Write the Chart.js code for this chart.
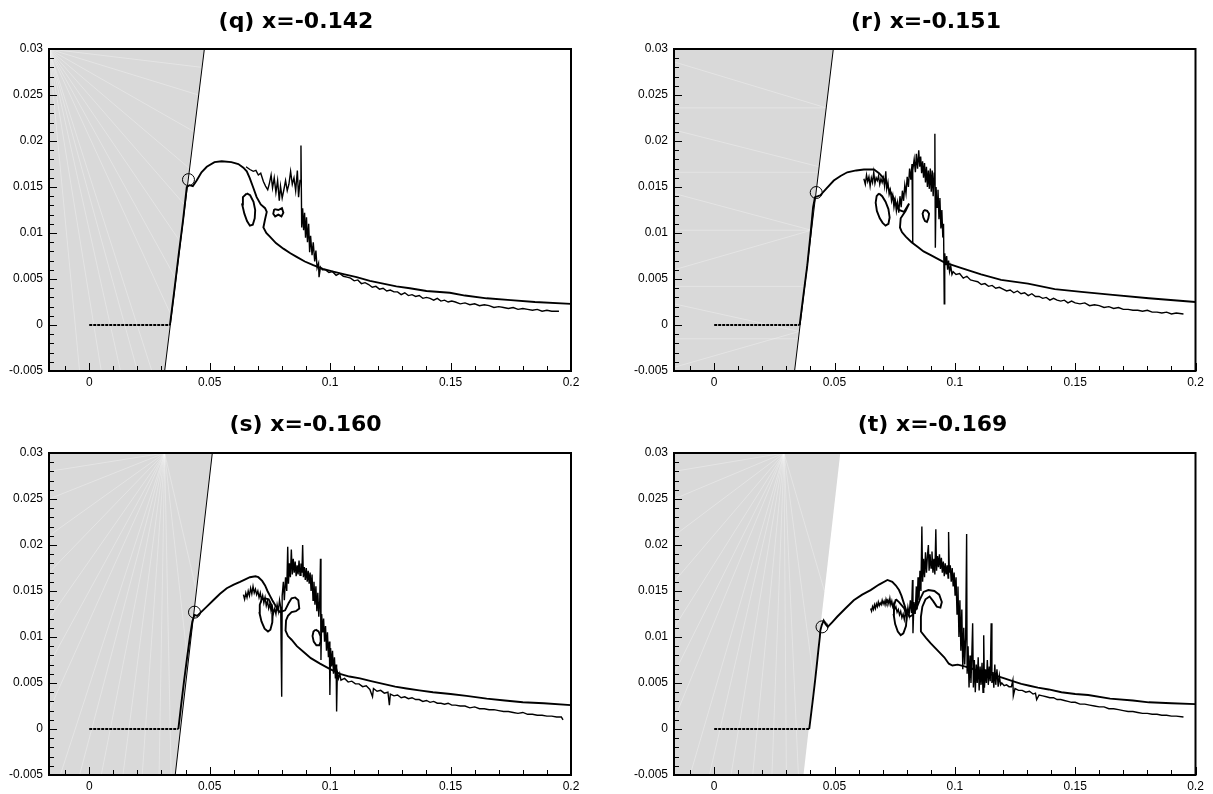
<!DOCTYPE html>
<html>
<head>
<meta charset="utf-8">
<script src="https://cdn.jsdelivr.net/npm/chart.js@4.4.1/dist/chart.umd.min.js"></script>
<style>
  body { margin: 0; background: #fff; width: 1213px; height: 794px; overflow: hidden; position: relative; }
  canvas { position: absolute; }
</style>
</head>
<body>
<canvas id="cq" width="592" height="397" style="left:0;top:0"></canvas>
<canvas id="cr" width="612" height="397" style="left:620px;top:0"></canvas>
<canvas id="cs" width="611" height="397" style="left:0;top:397px"></canvas>
<canvas id="ct" width="625" height="397" style="left:620px;top:397px"></canvas>
<script>
  'use strict';

  // axis ranges and tick labels (shared by all four panels)
  var xMin = -0.0167, xMax = 0.2;
  var yMin = -0.005, yMax = 0.03;
  var xTicks = [0, 0.05, 0.1, 0.15, 0.2];
  var xTickLabels = ['0', '0.05', '0.1', '0.15', '0.2'];
  var yTicks = [-0.005, 0, 0.005, 0.01, 0.015, 0.02, 0.025, 0.03];
  var yTickLabels = ['-0.005', '0', '0.005', '0.01', '0.015', '0.02', '0.025', '0.03'];

  var titles = ['(q) x=-0.142', '(r) x=-0.151', '(s) x=-0.160', '(t) x=-0.169'];

  /* ---------- (q) ---------- */
  var qWedge = [[0.0313, -0.005], [0.0478, 0.03]];
  var qFlat = [[0, 0], [0.0335, 0]];
  var qMain = [[0.0335,0],[0.0352,0.0035],[0.0372,0.0078],[0.0390,0.0115],[0.0405,0.0150],[0.0416,0.0152],[0.0430,0.0151],
    [0.0446,0.0157],[0.0466,0.0166],[0.0488,0.0172],[0.0520,0.0177],[0.0550,0.0178],[0.0590,0.0177],[0.0619,0.0175],
    [0.0640,0.0171],[0.0654,0.0167],[0.0666,0.0160],[0.0680,0.0150],[0.0695,0.0139],[0.0712,0.0131],[0.0730,0.0127],
    [0.0737,0.0123],[0.0730,0.0115],[0.0723,0.0106],[0.0735,0.0100],[0.0750,0.0096],[0.0775,0.0089],[0.0806,0.0083],
    [0.0835,0.0078],[0.0861,0.0074],[0.0895,0.0069],[0.0930,0.0065],[0.0970,0.0061],[0.1013,0.0058],[0.1060,0.0055],
    [0.1110,0.0052],[0.1165,0.0048],[0.1220,0.0045],[0.1275,0.0042],[0.1331,0.0040],[0.1400,0.0037],[0.1497,0.0035],
    [0.1560,0.0032],[0.1650,0.0029],[0.1750,0.0027],[0.1850,0.0025],[0.2000,0.0023]];
  var qNoise = [[0.0651,0.0172],[0.0667,0.0169],[0.0681,0.0167],[0.0692,0.0168],[0.0702,0.0163],[0.0712,0.0165],[0.0723,0.0156],
    [0.0732,0.0151],[0.0741,0.0147],[0.0748,0.0154],[0.0755,0.0163],[0.0761,0.0149],[0.0768,0.0160],[0.0775,0.0144],
    [0.0782,0.0157],[0.0789,0.0135],[0.0794,0.0151],[0.0801,0.0138],[0.0808,0.0147],[0.0815,0.0157],[0.0822,0.0146],
    [0.0829,0.0153],[0.0836,0.0167],[0.0843,0.0153],[0.0850,0.0160],[0.0857,0.0146],[0.0864,0.0168],[0.0869,0.0139],
    [0.0875,0.0157],[0.0879,0.0195],[0.0882,0.0106],[0.0886,0.0127],[0.0890,0.0103],[0.0894,0.0122],[0.0898,0.0095],
    [0.0902,0.0117],[0.0906,0.0090],[0.0911,0.0110],[0.0915,0.0079],[0.0919,0.0097],[0.0925,0.0076],[0.0930,0.0090],
    [0.0936,0.0069],[0.0941,0.0081],[0.0946,0.0062],[0.0952,0.0067],[0.0954,0.0052],[0.0960,0.0063],[0.0968,0.0060],
    [0.0980,0.0060],[0.0995,0.0057],[0.1010,0.0058],[0.1025,0.0054],[0.1040,0.0056],[0.1055,0.0053],[0.1070,0.0052],
    [0.1085,0.0051],[0.1100,0.0048],[0.1115,0.0049],[0.1130,0.0045],[0.1145,0.0046],[0.1160,0.0044],[0.1175,0.0041],
    [0.1190,0.0042],[0.1205,0.0039],[0.1220,0.0040],[0.1235,0.0037],[0.1250,0.0038],[0.1265,0.0036],[0.1280,0.0036],
    [0.1295,0.0033],[0.1310,0.0035],[0.1325,0.0032],[0.1340,0.0033],[0.1355,0.0031],[0.1370,0.0032],[0.1385,0.0029],
    [0.1400,0.0030],[0.1415,0.0029],[0.1430,0.0027],[0.1445,0.0029],[0.1460,0.0026],[0.1475,0.0027],[0.1490,0.0025],
    [0.1505,0.0026],[0.1520,0.0025],[0.1540,0.0023],[0.1560,0.0024],[0.1580,0.0022],[0.1600,0.0023],[0.1620,0.0021],
    [0.1640,0.0022],[0.1660,0.0021],[0.1680,0.0019],[0.1700,0.0020],[0.1720,0.0019],[0.1740,0.0018],[0.1760,0.0019],
    [0.1780,0.0017],[0.1800,0.0018],[0.1820,0.0017],[0.1840,0.0016],[0.1860,0.0017],[0.1880,0.0015],[0.1900,0.0016],
    [0.1920,0.0015],[0.1950,0.0015]];
  var qLoopA = [[0.0654,0.0143],[0.0668,0.0141],[0.0682,0.0134],[0.0689,0.0125],[0.0687,0.0116],[0.0679,0.0109],[0.0667,0.0108],
    [0.0655,0.0113],[0.0644,0.0121],[0.0635,0.0131],[0.0638,0.0139],[0.0654,0.0143]];
  var qLoopB = [[0.0768,0.0126],[0.0785,0.0125],[0.0800,0.0127],[0.0806,0.0122],[0.0798,0.0118],[0.0785,0.0120],[0.0772,0.0118],
    [0.0764,0.0121],[0.0768,0.0126]];
  var qMark = [[0.0412, 0.0158]];
  var qRayFrom = [-0.0167, 0.03];
  var qRayTo = [[0.0469,0.028],[0.0454,0.025],[0.0436,0.021],[0.0417,0.017],[0.0398,0.013],[0.0379,0.009],[0.0360,0.005],
    [0.0341,0.001],[0.026,-0.005],[0.020,-0.005],[0.013,-0.005],[0.005,-0.005],[-0.004,-0.005]];

  /* ---------- (r) ---------- */
  var rWedge = [[0.0334, -0.005], [0.0495, 0.03]];
  var rFlat = [[0, 0], [0.0355, 0]];
  var rMain = [[0.0355,0],[0.0372,0.0035],[0.0387,0.0065],[0.0400,0.0098],[0.0411,0.0128],[0.0419,0.0139],[0.0431,0.0140],
    [0.0441,0.0141],[0.0465,0.0148],[0.0497,0.0157],[0.0525,0.0162],[0.0553,0.0166],[0.0590,0.0168],[0.0622,0.0169],
    [0.0664,0.0169],[0.0685,0.0165],[0.0699,0.0161],[0.0713,0.0155],[0.0726,0.0148],[0.0740,0.0141],[0.0750,0.0136],
    [0.0760,0.0129],[0.0768,0.0125],[0.0789,0.0123],[0.0810,0.0132],[0.0795,0.0124],[0.0775,0.0116],[0.0772,0.0106],
    [0.0780,0.0101],[0.0796,0.0096],[0.0820,0.0090],[0.0845,0.0085],[0.0870,0.0080],[0.0900,0.0076],[0.0956,0.0068],
    [0.1025,0.0062],[0.1109,0.0055],[0.1192,0.0049],[0.1304,0.0045],[0.1415,0.0039],[0.1526,0.0036],[0.1645,0.0033],
    [0.1806,0.0029],[0.2000,0.0025]];
  var rNoise = [[0.0622,0.0159],[0.0628,0.0153],[0.0633,0.0163],[0.0638,0.0156],[0.0643,0.0161],[0.0648,0.0151],[0.0653,0.0160],
    [0.0658,0.0155],[0.0663,0.0166],[0.0668,0.0154],[0.0673,0.0160],[0.0678,0.0157],[0.0683,0.0162],[0.0688,0.0153],
    [0.0693,0.0159],[0.0698,0.0155],[0.0703,0.0160],[0.0708,0.0151],[0.0713,0.0167],[0.0717,0.0148],[0.0722,0.0155],
    [0.0727,0.0142],[0.0732,0.0147],[0.0737,0.0135],[0.0742,0.0141],[0.0747,0.0128],[0.0752,0.0136],[0.0757,0.0124],
    [0.0762,0.0133],[0.0767,0.0122],[0.0772,0.0140],[0.0777,0.0128],[0.0782,0.0146],[0.0787,0.0135],[0.0792,0.0152],
    [0.0797,0.0143],[0.0802,0.0161],[0.0807,0.0150],[0.0812,0.0170],[0.0817,0.0158],[0.0822,0.0175],[0.0824,0.0089],
    [0.0826,0.0168],[0.0831,0.0180],[0.0836,0.0166],[0.0840,0.0186],[0.0845,0.0170],[0.0850,0.0190],[0.0854,0.0172],
    [0.0858,0.0183],[0.0862,0.0165],[0.0866,0.0178],[0.0870,0.0160],[0.0874,0.0176],[0.0878,0.0155],[0.0882,0.0172],
    [0.0886,0.0150],[0.0890,0.0168],[0.0894,0.0148],[0.0898,0.0170],[0.0902,0.0145],[0.0906,0.0168],[0.0910,0.0140],
    [0.0914,0.0165],[0.0917,0.0208],[0.0919,0.0084],[0.0922,0.0150],[0.0926,0.0128],[0.0930,0.0147],[0.0934,0.0115],
    [0.0938,0.0138],[0.0942,0.0105],[0.0946,0.0125],[0.0950,0.0095],[0.0953,0.0110],[0.0956,0.0023],[0.0958,0.0078],
    [0.0962,0.0065],[0.0966,0.0075],[0.0970,0.0060],[0.0974,0.0070],[0.0978,0.0058],[0.0983,0.0064],[0.0988,0.0055],
    [0.0993,0.0058],[0.1005,0.0055],[0.1020,0.0056],[0.1035,0.0051],[0.1050,0.0053],[0.1065,0.0049],[0.1080,0.0048],
    [0.1095,0.0047],[0.1110,0.0044],[0.1125,0.0045],[0.1140,0.0042],[0.1155,0.0043],[0.1170,0.0040],[0.1185,0.0041],
    [0.1200,0.0039],[0.1215,0.0037],[0.1230,0.0038],[0.1245,0.0035],[0.1260,0.0037],[0.1275,0.0034],[0.1290,0.0035],
    [0.1305,0.0032],[0.1320,0.0034],[0.1335,0.0031],[0.1350,0.0031],[0.1365,0.0029],[0.1380,0.0030],[0.1395,0.0027],
    [0.1410,0.0029],[0.1425,0.0027],[0.1440,0.0026],[0.1455,0.0027],[0.1470,0.0024],[0.1485,0.0026],[0.1500,0.0024],
    [0.1520,0.0023],[0.1540,0.0024],[0.1560,0.0021],[0.1580,0.0022],[0.1600,0.0021],[0.1620,0.0019],[0.1640,0.0020],
    [0.1660,0.0018],[0.1680,0.0019],[0.1700,0.0017],[0.1720,0.0017],[0.1740,0.0016],[0.1760,0.0016],[0.1780,0.0015],
    [0.1800,0.0016],[0.1820,0.0014],[0.1840,0.0014],[0.1860,0.0013],[0.1880,0.0014],[0.1900,0.0012],[0.1920,0.0013],
    [0.1950,0.0012]];
  var rLoopA = [[0.0685,0.0143],[0.0698,0.0140],[0.0712,0.0134],[0.0724,0.0126],[0.0729,0.0117],[0.0724,0.0110],[0.0712,0.0108],
    [0.0700,0.0111],[0.0688,0.0116],[0.0676,0.0124],[0.0671,0.0133],[0.0675,0.0140],[0.0685,0.0143]];
  var rLoopB = [[0.0872,0.0125],[0.0885,0.0124],[0.0893,0.0121],[0.0890,0.0116],[0.0884,0.0112],[0.0876,0.0113],[0.0869,0.0117],
    [0.0866,0.0121],[0.0872,0.0125]];
  var rMark = [[0.0424, 0.0144]];
  var rRays = [
    [[-0.0167,0.0236],[0.0466,0.0236]], [[-0.0167,0.0166],[0.0433,0.0166]], [[-0.0167,0.0103],[0.0404,0.0103]],
    [[-0.0167,0.0042],[0.0376,0.0042]], [[-0.0167,-0.0015],[0.0350,-0.0015]], [[-0.0167,0.0286],[0.0466,0.0236]],
    [[-0.0167,0.0212],[0.0436,0.0172]], [[-0.0167,0.0143],[0.0404,0.0103]], [[-0.0167,0.0060],[0.0404,0.0103]],
    [[-0.0167,0.0023],[0.0354,-0.0007]], [[-0.0167,-0.0046],[0.0354,-0.0007]]];

  /* ---------- (s) ---------- */
  var sWedge = [[0.0357, -0.005], [0.0511, 0.03]];
  var sFlat = [[0, 0], [0.0370, 0]];
  var sMain = [[0.0370,0],[0.0382,0.0027],[0.0394,0.0053],[0.0406,0.0077],[0.0418,0.0100],[0.0428,0.0117],[0.0437,0.0124],
    [0.0448,0.0123],[0.0460,0.0126],[0.0488,0.0133],[0.0515,0.0140],[0.0543,0.0147],[0.0571,0.0153],[0.0600,0.0157],
    [0.0626,0.0160],[0.0650,0.0163],[0.0667,0.0165],[0.0690,0.0166],[0.0702,0.0165],[0.0718,0.0161],[0.0730,0.0156],
    [0.0740,0.0150],[0.0750,0.0145],[0.0760,0.0140],[0.0771,0.0135],[0.0782,0.0130],[0.0792,0.0127],[0.0813,0.0129],
    [0.0828,0.0137],[0.0840,0.0142],[0.0855,0.0143],[0.0868,0.0140],[0.0872,0.0131],[0.0858,0.0128],[0.0840,0.0127],
    [0.0825,0.0123],[0.0817,0.0118],[0.0815,0.0107],[0.0825,0.0101],[0.0840,0.0097],[0.0862,0.0090],[0.0889,0.0084],
    [0.0920,0.0077],[0.0958,0.0071],[0.1000,0.0065],[0.1041,0.0060],[0.1080,0.0057],[0.1124,0.0055],[0.1170,0.0052],
    [0.1220,0.0049],[0.1270,0.0046],[0.1317,0.0044],[0.1370,0.0042],[0.1427,0.0040],[0.1500,0.0038],[0.1566,0.0036],
    [0.1650,0.0033],[0.1725,0.0031],[0.1800,0.0029],[0.1887,0.0028],[0.2000,0.0026]];
  var sNoise = [[0.0640,0.0146],[0.0645,0.0141],[0.0650,0.0148],[0.0655,0.0143],[0.0660,0.0150],[0.0665,0.0145],[0.0670,0.0153],
    [0.0675,0.0147],[0.0680,0.0155],[0.0685,0.0148],[0.0690,0.0152],[0.0695,0.0146],[0.0700,0.0150],[0.0705,0.0143],
    [0.0710,0.0148],[0.0715,0.0140],[0.0720,0.0145],[0.0725,0.0137],[0.0730,0.0143],[0.0735,0.0134],[0.0740,0.0139],
    [0.0745,0.0131],[0.0750,0.0136],[0.0755,0.0128],[0.0760,0.0133],[0.0765,0.0126],[0.0770,0.0131],[0.0775,0.0125],
    [0.0780,0.0135],[0.0785,0.0128],[0.0790,0.0140],[0.0795,0.0132],[0.0799,0.0035],[0.0801,0.0145],[0.0806,0.0160],
    [0.0810,0.0140],[0.0815,0.0165],[0.0820,0.0150],[0.0824,0.0198],[0.0827,0.0158],[0.0831,0.0180],[0.0835,0.0165],
    [0.0839,0.0195],[0.0843,0.0168],[0.0847,0.0185],[0.0851,0.0170],[0.0855,0.0182],[0.0859,0.0166],[0.0863,0.0178],
    [0.0867,0.0168],[0.0871,0.0183],[0.0875,0.0167],[0.0879,0.0180],[0.0883,0.0170],[0.0886,0.0200],[0.0889,0.0165],
    [0.0893,0.0176],[0.0897,0.0162],[0.0901,0.0175],[0.0905,0.0160],[0.0909,0.0172],[0.0913,0.0158],[0.0917,0.0170],
    [0.0921,0.0150],[0.0925,0.0168],[0.0929,0.0140],[0.0933,0.0160],[0.0937,0.0135],[0.0941,0.0155],[0.0945,0.0128],
    [0.0949,0.0148],[0.0953,0.0122],[0.0957,0.0140],[0.0960,0.0185],[0.0962,0.0075],[0.0965,0.0125],[0.0969,0.0105],
    [0.0973,0.0120],[0.0977,0.0095],[0.0981,0.0112],[0.0985,0.0085],[0.0989,0.0105],[0.0993,0.0078],[0.0997,0.0095],
    [0.0999,0.0037],[0.1002,0.0088],[0.1006,0.0068],[0.1010,0.0085],[0.1014,0.0060],[0.1018,0.0078],[0.1022,0.0055],
    [0.1025,0.0070],[0.1027,0.0019],[0.1030,0.0062],[0.1035,0.0055],[0.1040,0.0060],[0.1045,0.0053],[0.1060,0.0055],
    [0.1075,0.0051],[0.1090,0.0052],[0.1105,0.0049],[0.1120,0.0049],[0.1135,0.0046],[0.1150,0.0047],[0.1165,0.0043],
    [0.1176,0.0035],[0.1180,0.0044],[0.1195,0.0041],[0.1210,0.0042],[0.1225,0.0039],[0.1240,0.0040],[0.1246,0.0026],
    [0.1250,0.0038],[0.1265,0.0036],[0.1280,0.0037],[0.1295,0.0034],[0.1310,0.0035],[0.1325,0.0033],[0.1340,0.0034],
    [0.1355,0.0032],[0.1370,0.0032],[0.1385,0.0030],[0.1400,0.0031],[0.1415,0.0029],[0.1430,0.0030],[0.1445,0.0028],
    [0.1460,0.0028],[0.1475,0.0027],[0.1490,0.0028],[0.1505,0.0026],[0.1520,0.0026],[0.1540,0.0025],[0.1560,0.0025],
    [0.1580,0.0023],[0.1600,0.0024],[0.1620,0.0022],[0.1640,0.0022],[0.1660,0.0021],[0.1680,0.0021],[0.1700,0.0020],
    [0.1720,0.0019],[0.1740,0.0019],[0.1760,0.0018],[0.1780,0.0017],[0.1800,0.0018],[0.1820,0.0016],[0.1840,0.0016],
    [0.1860,0.0015],[0.1880,0.0015],[0.1900,0.0014],[0.1920,0.0014],[0.1940,0.0013],[0.1960,0.0013],[0.1967,0.0010]];
  var sLoopA = [[0.0730,0.0142],[0.0745,0.0141],[0.0756,0.0135],[0.0762,0.0126],[0.0760,0.0116],[0.0752,0.0108],[0.0742,0.0106],
    [0.0728,0.0109],[0.0715,0.0117],[0.0707,0.0126],[0.0708,0.0135],[0.0716,0.0141],[0.0730,0.0142]];
  var sLoopB = [[0.0940,0.0108],[0.0952,0.0106],[0.0960,0.0101],[0.0961,0.0095],[0.0955,0.0091],[0.0943,0.0091],[0.0932,0.0095],
    [0.0927,0.0101],[0.0931,0.0106],[0.0940,0.0108]];
  var sMark = [[0.0437, 0.0127]];
  var sRayFrom = [0.0313, 0.03];
  var sRayTo = [[-0.0167,0.028],[-0.0167,0.025],[-0.0167,0.021],[-0.0167,0.017],[-0.0167,0.012],[-0.0167,0.007],[-0.0167,0.002],
    [-0.012,-0.005],[-0.004,-0.005],[0.005,-0.005],[0.014,-0.005],[0.022,-0.005],[0.029,-0.005],[0.034,-0.005],
    [0.0445,0.015],[0.0410,0.007]];

  /* ---------- (t) ---------- */
  var tWedge = [[0.0371, -0.005], [0.0524, 0.03]];
  var tFlat = [[0, 0], [0.0395, 0]];
  var tMain = [[0.0395,0],[0.0403,0.0017],[0.0411,0.0034],[0.0419,0.0052],[0.0427,0.0071],[0.0433,0.0086],[0.0439,0.0100],
    [0.0441,0.0107],[0.0447,0.0113],[0.0455,0.0118],[0.0463,0.0114],[0.0472,0.0111],[0.0490,0.0116],[0.0511,0.0122],
    [0.0545,0.0131],[0.0580,0.0140],[0.0615,0.0146],[0.0650,0.0151],[0.0685,0.0157],[0.0720,0.0162],[0.0740,0.0160],
    [0.0755,0.0156],[0.0768,0.0151],[0.0778,0.0145],[0.0789,0.0136],[0.0800,0.0127],[0.0812,0.0122],[0.0825,0.0124],
    [0.0840,0.0131],[0.0855,0.0141],[0.0870,0.0149],[0.0890,0.0151],[0.0915,0.0150],[0.0935,0.0146],[0.0946,0.0138],
    [0.0940,0.0132],[0.0925,0.0133],[0.0910,0.0139],[0.0895,0.0144],[0.0878,0.0141],[0.0865,0.0133],[0.0859,0.0122],
    [0.0859,0.0106],[0.0880,0.0099],[0.0900,0.0093],[0.0930,0.0085],[0.0956,0.0078],[0.0975,0.0071],[0.0990,0.0069],
    [0.1012,0.0070],[0.1040,0.0068],[0.1067,0.0066],[0.1100,0.0063],[0.1137,0.0060],[0.1170,0.0058],[0.1206,0.0055],
    [0.1240,0.0052],[0.1276,0.0049],[0.1310,0.0047],[0.1345,0.0045],[0.1390,0.0043],[0.1443,0.0040],[0.1500,0.0038],
    [0.1554,0.0037],[0.1645,0.0033],[0.1740,0.0031],[0.1806,0.0029],[0.1900,0.0028],[0.2000,0.0027]];
  var tNoise = [[0.0650,0.0131],[0.0654,0.0128],[0.0658,0.0133],[0.0662,0.0130],[0.0666,0.0135],[0.0670,0.0131],[0.0674,0.0136],
    [0.0678,0.0133],[0.0682,0.0138],[0.0686,0.0134],[0.0690,0.0137],[0.0694,0.0135],[0.0698,0.0140],[0.0702,0.0136],
    [0.0706,0.0139],[0.0710,0.0135],[0.0714,0.0141],[0.0718,0.0137],[0.0722,0.0140],[0.0726,0.0136],[0.0730,0.0142],
    [0.0734,0.0135],[0.0738,0.0139],[0.0742,0.0133],[0.0746,0.0136],[0.0750,0.0130],[0.0755,0.0133],[0.0760,0.0127],
    [0.0765,0.0130],[0.0770,0.0124],[0.0775,0.0128],[0.0780,0.0121],[0.0785,0.0125],[0.0790,0.0119],[0.0795,0.0128],
    [0.0800,0.0120],[0.0805,0.0132],[0.0810,0.0124],[0.0815,0.0140],[0.0820,0.0126],[0.0824,0.0162],[0.0826,0.0104],
    [0.0830,0.0138],[0.0835,0.0125],[0.0840,0.0155],[0.0843,0.0130],[0.0847,0.0165],[0.0851,0.0140],[0.0855,0.0172],
    [0.0859,0.0150],[0.0863,0.0220],[0.0866,0.0160],[0.0870,0.0185],[0.0874,0.0165],[0.0878,0.0192],[0.0882,0.0170],
    [0.0886,0.0188],[0.0890,0.0200],[0.0893,0.0172],[0.0897,0.0190],[0.0901,0.0175],[0.0905,0.0193],[0.0909,0.0170],
    [0.0913,0.0185],[0.0917,0.0168],[0.0921,0.0217],[0.0924,0.0172],[0.0928,0.0188],[0.0932,0.0176],[0.0936,0.0190],
    [0.0940,0.0174],[0.0944,0.0186],[0.0948,0.0170],[0.0952,0.0182],[0.0956,0.0166],[0.0960,0.0180],[0.0964,0.0168],
    [0.0968,0.0178],[0.0972,0.0164],[0.0974,0.0214],[0.0977,0.0170],[0.0981,0.0178],[0.0985,0.0160],[0.0989,0.0175],
    [0.0993,0.0155],[0.0997,0.0170],[0.1001,0.0145],[0.1005,0.0165],[0.1009,0.0125],[0.1013,0.0155],[0.1017,0.0100],
    [0.1021,0.0140],[0.1025,0.0085],[0.1029,0.0130],[0.1033,0.0065],[0.1037,0.0110],[0.1041,0.0070],[0.1045,0.0100],
    [0.1049,0.0212],[0.1051,0.0060],[0.1055,0.0090],[0.1059,0.0045],[0.1063,0.0080],[0.1067,0.0050],[0.1071,0.0085],
    [0.1074,0.0115],[0.1077,0.0045],[0.1081,0.0075],[0.1085,0.0040],[0.1089,0.0070],[0.1093,0.0050],[0.1097,0.0078],
    [0.1101,0.0042],[0.1105,0.0068],[0.1109,0.0048],[0.1113,0.0072],[0.1117,0.0040],[0.1120,0.0102],[0.1123,0.0045],
    [0.1127,0.0065],[0.1131,0.0050],[0.1135,0.0075],[0.1139,0.0048],[0.1143,0.0068],[0.1147,0.0052],[0.1151,0.0115],
    [0.1154,0.0050],[0.1158,0.0062],[0.1162,0.0045],[0.1166,0.0070],[0.1170,0.0048],[0.1175,0.0065],[0.1180,0.0046],
    [0.1185,0.0058],[0.1190,0.0048],[0.1195,0.0050],[0.1205,0.0047],[0.1215,0.0048],[0.1225,0.0046],[0.1235,0.0046],
    [0.1241,0.0053],[0.1243,0.0036],[0.1250,0.0044],[0.1265,0.0042],[0.1280,0.0042],[0.1295,0.0040],[0.1310,0.0041],
    [0.1325,0.0038],[0.1335,0.0039],[0.1340,0.0032],[0.1350,0.0037],[0.1365,0.0036],[0.1380,0.0035],[0.1395,0.0034],
    [0.1410,0.0034],[0.1425,0.0032],[0.1440,0.0032],[0.1455,0.0031],[0.1470,0.0030],[0.1485,0.0029],[0.1500,0.0029],
    [0.1520,0.0027],[0.1540,0.0027],[0.1560,0.0026],[0.1580,0.0025],[0.1600,0.0024],[0.1620,0.0024],[0.1640,0.0022],
    [0.1660,0.0022],[0.1680,0.0021],[0.1700,0.0020],[0.1720,0.0019],[0.1740,0.0019],[0.1760,0.0018],[0.1780,0.0017],
    [0.1800,0.0017],[0.1820,0.0016],[0.1840,0.0016],[0.1860,0.0015],[0.1880,0.0015],[0.1900,0.0014],[0.1920,0.0014],
    [0.1950,0.0013]];
  var tLoopA = [[0.0755,0.0141],[0.0768,0.0138],[0.0790,0.0131],[0.0800,0.0122],[0.0797,0.0112],[0.0786,0.0104],[0.0775,0.0102],
    [0.0763,0.0106],[0.0752,0.0114],[0.0746,0.0124],[0.0747,0.0134],[0.0755,0.0141]];
  var tMark = [[0.0448, 0.0111]];
  var tRayFrom = [0.029, 0.03];
  var tRayTo = [[-0.0167,0.028],[-0.0167,0.025],[-0.0167,0.021],[-0.0167,0.016],[-0.0167,0.011],[-0.0167,0.006],[-0.0167,0.001],
    [-0.010,-0.005],[-0.002,-0.005],[0.007,-0.005],[0.016,-0.005],[0.024,-0.005],[0.030,-0.005],[0.035,-0.005],
    [0.0458,0.015],[0.0415,0.005]];

  var shadeColor = '#d9d9d9';
  var rayColor = 'rgba(255,255,255,0.3)';

  /**
   * ticks pointing inward + closed frame round the plot
   */
  var innerTicks = {
    id: 'innerTicks',
    afterDatasetsDraw: function (chart) {
      var ctx = chart.ctx, a = chart.chartArea, sx = chart.scales.x, sy = chart.scales.y;
      ctx.save();
      ctx.strokeStyle = '#000';
      ctx.lineWidth = 1;
      ctx.beginPath();
      for (var i = -1; i <= 20; i++) {
        var px = Math.round(sx.getPixelForValue(i / 100)) + 0.5;
        var lx = i % 5 === 0 ? 8 : 5;
        ctx.moveTo(px, a.bottom);
        ctx.lineTo(px, a.bottom - lx);
      }
      for (var j = -5; j <= 30; j++) {
        var py = Math.round(sy.getPixelForValue(j / 1000)) + 0.5;
        var ly = j % 5 === 0 ? 8 : 5;
        ctx.moveTo(a.left, py);
        ctx.lineTo(a.left + ly, py);
      }
      ctx.stroke();
      ctx.lineWidth = 2;
      ctx.strokeRect(a.left, a.top, a.right - a.left, a.bottom - a.top);
      ctx.restore();
    }
  };

  function pts(arr) {
    return arr.map(function (p) { return {x: p[0], y: p[1]}; });
  }

  function curve(arr, extra) {
    var ds = {data: pts(arr), showLine: true, pointRadius: 0, borderColor: '#000',
      borderWidth: 2, fill: false, tension: 0};
    return Object.assign(ds, extra || {});
  }

  function panel(id, title, p, g) {
    var sets = [];
    sets.push(curve(p.main, {borderWidth: 1.9}));
    sets.push(curve(p.flat, {borderWidth: 2, borderDash: [3, 1]}));
    sets.push(curve(p.noise, {borderWidth: 1.4}));
    p.loops.forEach(function (l) { sets.push(curve(l, {borderWidth: 1.9})); });
    sets.push({data: pts(p.mark), showLine: false, pointRadius: 6, pointBorderWidth: 1,
      pointBorderColor: '#000', pointBackgroundColor: 'rgba(0,0,0,0)'});
    if (p.wedgeLine) sets.push(curve(p.wedge, {borderWidth: 1}));
    p.rays.forEach(function (r) { sets.push(curve(r, {borderWidth: 1, borderColor: rayColor, order: 9})); });
    sets.push(curve([[xMin, yMin]].concat(p.wedge), {borderWidth: 0, borderColor: 'rgba(0,0,0,0)',
      fill: 'end', backgroundColor: shadeColor, order: 10}));

    new Chart(document.getElementById(id), {
      type: 'scatter',
      data: {datasets: sets},
      plugins: [innerTicks],
      options: {
        responsive: false,
        animation: false,
        events: [],
        layout: {padding: 0},
        plugins: {
          legend: {display: false},
          tooltip: {enabled: false},
          title: {display: true, text: title, color: '#000',
            font: {family: '"DejaVu Sans", sans-serif', size: 22, weight: 'bold'},
            padding: {top: g.tTop, bottom: g.tBottom}}
        },
        scales: {
          x: {type: 'linear', min: xMin, max: xMax,
            grid: {display: false, drawTicks: false}, border: {display: false},
            afterFit: function (s) { s.height = g.xH; },
            afterBuildTicks: function (s) { s.ticks = xTicks.map(function (v) { return {value: v}; }); },
            ticks: {color: '#000', padding: 4, autoSkip: false, maxRotation: 0,
              font: {family: '"Liberation Sans", Arial, sans-serif', size: 12},
              callback: function (v, i) { return xTickLabels[i]; }}},
          y: {type: 'linear', min: yMin, max: yMax,
            grid: {display: false, drawTicks: false}, border: {display: false},
            afterFit: function (s) { s.width = g.yW; },
            afterBuildTicks: function (s) { s.ticks = yTicks.map(function (v) { return {value: v}; }); },
            ticks: {color: '#000', padding: 6, autoSkip: false,
              font: {family: '"Liberation Sans", Arial, sans-serif', size: 12},
              callback: function (v, i) { return yTickLabels[i]; }}},
          // empty right-hand axis: only reserves room so the title stays centred where the original has it
          yPad: {type: 'linear', position: 'right', display: true,
            grid: {display: false, drawTicks: false}, border: {display: false},
            ticks: {display: false},
            afterFit: function (s) { s.width = g.rW; }}
        }
      }
    });
  }

  function fan(from, ends) {
    return ends.map(function (e) { return [from, e]; });
  }

  panel('cq', titles[0], {main: qMain, flat: qFlat, noise: qNoise, loops: [qLoopA, qLoopB], mark: qMark,
    wedge: qWedge, wedgeLine: true, rays: fan(qRayFrom, qRayTo)},
    {tTop: 8.8, tBottom: 13.8, xH: 26, yW: 49, rW: 21});
  panel('cr', titles[1], {main: rMain, flat: rFlat, noise: rNoise, loops: [rLoopA, rLoopB], mark: rMark,
    wedge: rWedge, wedgeLine: true, rays: rRays},
    {tTop: 8.8, tBottom: 13.8, xH: 26, yW: 54, rW: 36.5});
  panel('cs', titles[2], {main: sMain, flat: sFlat, noise: sNoise, loops: [sLoopA, sLoopB], mark: sMark,
    wedge: sWedge, wedgeLine: true, rays: fan(sRayFrom, sRayTo)},
    {tTop: 15.1, tBottom: 14.5, xH: 19, yW: 49, rW: 40});
  panel('ct', titles[3], {main: tMain, flat: tFlat, noise: tNoise, loops: [tLoopA], mark: tMark,
    wedge: tWedge, wedgeLine: false, rays: fan(tRayFrom, tRayTo)},
    {tTop: 15.1, tBottom: 14.5, xH: 19, yW: 54, rW: 49.5});
</script>
</body>
</html>
